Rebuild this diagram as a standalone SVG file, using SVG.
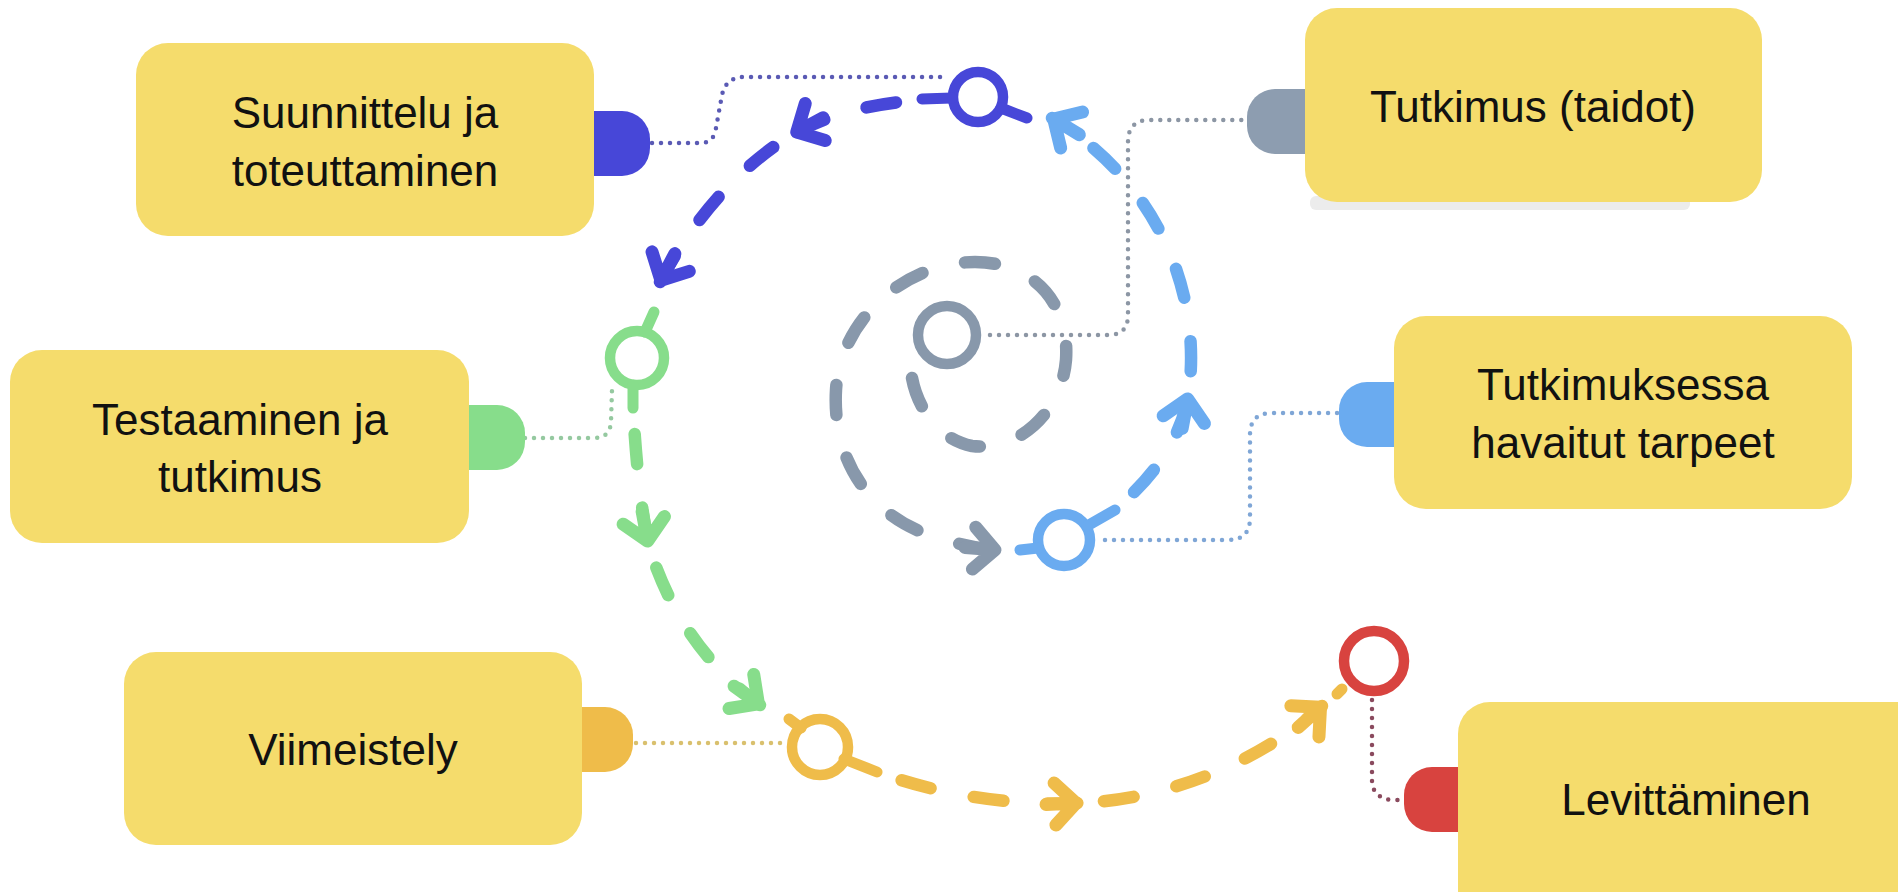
<svg xmlns="http://www.w3.org/2000/svg" width="1898" height="892" viewBox="0 0 1898 892">
<style>
.box{fill:#f5dc6c}
.lbl{font-family:"Liberation Sans",Arial,sans-serif;font-size:44px;fill:#111;text-anchor:middle}
.dot{fill:none;stroke-width:4.5;stroke-linecap:round;stroke-dasharray:0 9}
.dash{fill:none;stroke-width:12.5;stroke-linecap:round;stroke-dasharray:30 44}
.gap{stroke-dashoffset:48}
.ring{fill:none;stroke-width:10.5}
.stub{fill:none;stroke-width:11;stroke-linecap:round}
.arr{fill:none;stroke-width:13;stroke-linecap:round;stroke-linejoin:round}
</style>
<defs>
<marker id="aBlue" markerUnits="userSpaceOnUse" viewBox="-40 -30 60 60" markerWidth="60" markerHeight="60" refX="0" refY="0" orient="auto" overflow="visible"><path class="arr" stroke="#4747d8" d="M-32 0H-2M-23-21L-2 0L-23 21"/></marker>
<marker id="aLight" markerUnits="userSpaceOnUse" viewBox="-40 -30 60 60" markerWidth="60" markerHeight="60" refX="0" refY="0" orient="auto" overflow="visible"><path class="arr" stroke="#6aabf0" d="M-32 0H-2M-23-21L-2 0L-23 21"/></marker>
<marker id="aGray" markerUnits="userSpaceOnUse" viewBox="-40 -30 60 60" markerWidth="60" markerHeight="60" refX="0" refY="0" orient="auto" overflow="visible"><path class="arr" stroke="#8898ab" d="M-32 0H-2M-23-21L-2 0L-23 21"/></marker>
<marker id="aGreen" markerUnits="userSpaceOnUse" viewBox="-40 -30 60 60" markerWidth="60" markerHeight="60" refX="0" refY="0" orient="auto" overflow="visible"><path class="arr" stroke="#87dd8b" d="M-32 0H-2M-23-21L-2 0L-23 21"/></marker>
<marker id="aOrange" markerUnits="userSpaceOnUse" viewBox="-40 -30 60 60" markerWidth="60" markerHeight="60" refX="0" refY="0" orient="auto" overflow="visible"><path class="arr" stroke="#efbc4a" d="M-32 0H-2M-23-21L-2 0L-23 21"/></marker>
</defs>
<rect width="1898" height="892" fill="#ffffff"/>

<g id="connectors">
  <!-- dotted leader lines -->
  <path class="dot" stroke="#5a5ab4" d="M652 143H700Q714 143 716 128L722 95Q726 77 744 77H944"/>
  <path class="dot" stroke="#8c96a4" d="M990 335H1108Q1128 335 1128 315V142Q1128 120 1150 120H1247"/>
  <path class="dot" stroke="#7fa6d6" d="M1105 540H1228Q1250 540 1250 518V435Q1250 413 1272 413H1340"/>
  <path class="dot" stroke="#95c9a0" d="M525 438H594Q610 438 611 422L612 390"/>
  <path class="dot" stroke="#d9c06e" d="M636 743H787"/>
  <path class="dot" stroke="#8a4a5e" d="M1372 700V780Q1372 798 1392 800L1404 800"/>

  <!-- dashed flow path -->
  <path class="dash" stroke="#8898ab" marker-end="url(#aGray)" d="M912 378C918 410 940 440 972 446C1020 452 1062 410 1066 360C1070 300 1030 262 975 262C905 262 840 320 836 390C832 460 870 515 930 535C950 542 972 548 997 550"/>
  <path class="dash gap" stroke="#6aabf0" marker-end="url(#aLight)" d="M1115 510C1155 475 1180 440 1188 397"/>
  <path class="dash gap" stroke="#6aabf0" marker-end="url(#aLight)" d="M1188 397C1202 310 1170 190 1052 118"/>
  <path class="dash gap" stroke="#4747d8" marker-end="url(#aBlue)" d="M922 100C875 103 832 113 795 133"/>
  <path class="dash gap" stroke="#4747d8" marker-end="url(#aBlue)" d="M795 133C745 162 695 215 660 282"/>
  <path class="dash gap" stroke="#87dd8b" marker-end="url(#aGreen)" d="M633 408C636 460 640 500 648 543"/>
  <path class="dash gap" stroke="#87dd8b" marker-end="url(#aGreen)" d="M648 543C668 610 705 665 760 705"/>
  <path class="dash gap" stroke="#efbc4a" marker-end="url(#aOrange)" d="M877 772C940 795 1010 806 1078 803"/>
  <path class="dash gap" stroke="#efbc4a" marker-end="url(#aOrange)" d="M1078 803C1170 800 1262 760 1322 706"/>
  <path class="stub" stroke="#efbc4a" d="M1337 694L1342 689"/>
</g>

<g id="stations">
  <circle class="ring" stroke="#8898ab" cx="947" cy="335" r="29"/>
  <g id="ring-blue"><circle class="ring" stroke="#4747d8" cx="978" cy="97" r="25"/><path class="stub" stroke="#4747d8" d="M922 99L952 98M1001 108L1027 118"/></g>
  <g id="ring-light"><circle class="ring" stroke="#6aabf0" cx="1064" cy="540" r="26"/><path class="stub" stroke="#6aabf0" d="M1020 550L1038 548M1087 526L1115 510"/></g>
  <g id="ring-green"><circle class="ring" stroke="#87dd8b" cx="637" cy="358" r="27"/><path class="stub" stroke="#87dd8b" d="M645 332L654 312M633 385L633 408"/></g>
  <g id="ring-orange"><circle class="ring" stroke="#efbc4a" cx="820" cy="747" r="28"/><path class="stub" stroke="#efbc4a" d="M789 719L801 728M844 759L877 772"/></g>
  <circle class="ring" stroke="#d8433f" stroke-width="11" cx="1374" cy="661" r="30"/>
</g>

<g id="node-suunnittelu">
  <rect x="554" y="111" width="96" height="65" rx="28" fill="#4747d8"/>
  <rect class="box" x="136" y="43" width="458" height="193" rx="32"/>
  <text class="lbl" x="365" y="128">Suunnittelu ja</text>
  <text class="lbl" x="365" y="186">toteuttaminen</text>
</g>

<g id="node-tutkimus">
  <rect x="1310" y="196" width="380" height="14" rx="6" fill="#ececec"/>
  <rect x="1247" y="89" width="98" height="65" rx="28" fill="#8d9db0"/>
  <rect class="box" x="1305" y="8" width="457" height="194" rx="32"/>
  <text class="lbl" x="1533" y="122">Tutkimus (taidot)</text>
</g>

<g id="node-testaaminen">
  <rect x="430" y="405" width="95" height="65" rx="28" fill="#87dd8b"/>
  <rect class="box" x="10" y="350" width="459" height="193" rx="32"/>
  <text class="lbl" x="240" y="435">Testaaminen ja</text>
  <text class="lbl" x="240" y="492">tutkimus</text>
</g>

<g id="node-tarpeet">
  <rect x="1339" y="382" width="95" height="65" rx="28" fill="#6aabf0"/>
  <rect class="box" x="1394" y="316" width="458" height="193" rx="32"/>
  <text class="lbl" x="1623" y="400">Tutkimuksessa</text>
  <text class="lbl" x="1623" y="458">havaitut tarpeet</text>
</g>

<g id="node-viimeistely">
  <rect x="545" y="707" width="88" height="65" rx="28" fill="#efbc4a"/>
  <rect class="box" x="124" y="652" width="458" height="193" rx="32"/>
  <text class="lbl" x="353" y="765">Viimeistely</text>
</g>

<g id="node-levittaminen">
  <rect x="1404" y="767" width="96" height="65" rx="28" fill="#d8433f"/>
  <rect class="box" x="1458" y="702" width="470" height="220" rx="32"/>
  <text class="lbl" x="1686" y="815">Levittäminen</text>
</g>
</svg>
